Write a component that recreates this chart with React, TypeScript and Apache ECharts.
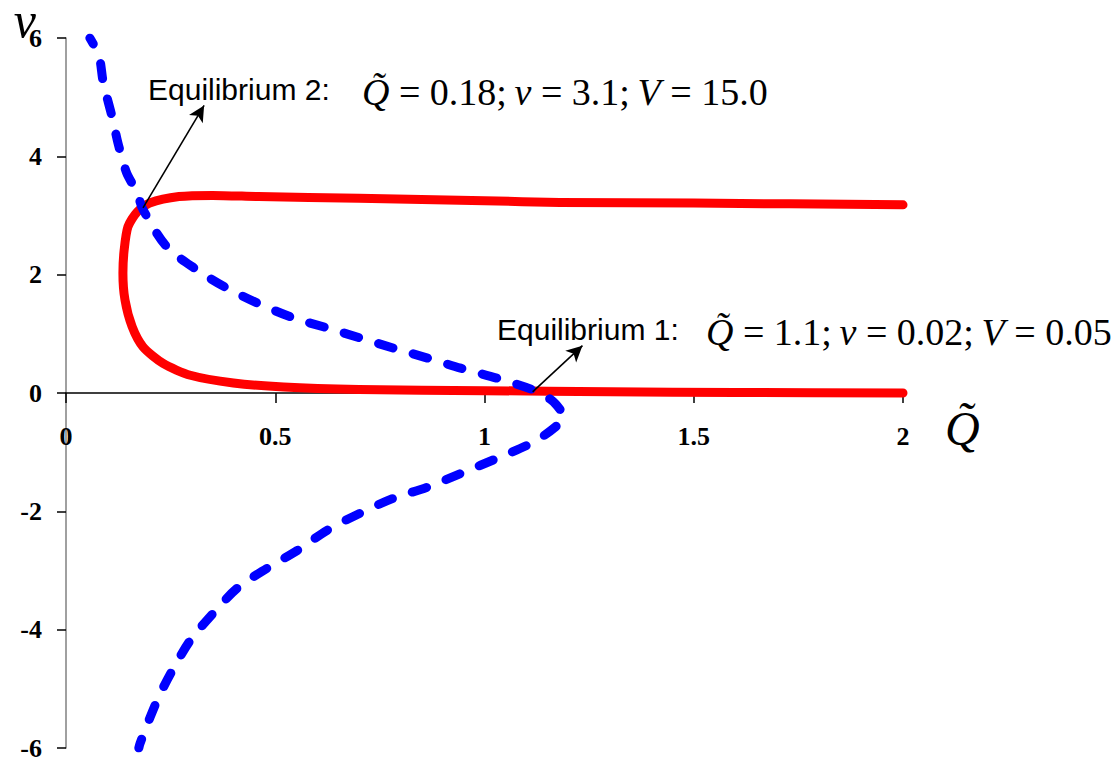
import React, { useEffect, useRef } from "react";
import * as echarts from "echarts";

// Red curve (solid): Q~ values and v values, traced from upper branch around the nose to lower branch
const redQ = [2.0, 1.5, 1.18, 1.0, 0.7, 0.46, 0.35, 0.27, 0.2, 0.17, 0.148, 0.139, 0.136, 0.141, 0.158, 0.184, 0.232, 0.297, 0.4, 0.52, 0.7, 1.0, 1.3, 1.6, 2.0];
const redV = [3.18, 3.21, 3.22, 3.25, 3.29, 3.32, 3.34, 3.32, 3.21, 3.06, 2.81, 2.42, 2.03, 1.57, 1.12, 0.78, 0.5, 0.3, 0.17, 0.1, 0.06, 0.04, 0.02, 0.01, 0.0];

// Blue curve (dashed)
const blueQ = [0.057, 0.079, 0.089, 0.11, 0.124, 0.133, 0.145, 0.17, 0.184, 0.241, 0.313, 0.38, 0.457, 0.543, 0.624, 0.703, 0.782, 0.864, 0.943, 1.03, 1.117, 1.16, 1.182, 1.19, 1.17, 1.117, 1.038, 0.943, 0.864, 0.782, 0.703, 0.624, 0.553, 0.481, 0.409, 0.352, 0.297, 0.254, 0.218, 0.177, 0.174];
const blueV = [6.0, 5.69, 5.25, 4.67, 4.23, 4.0, 3.72, 3.38, 3.1, 2.47, 2.08, 1.79, 1.52, 1.27, 1.1, 0.93, 0.76, 0.59, 0.42, 0.25, 0.05, -0.12, -0.29, -0.4, -0.57, -0.83, -1.08, -1.36, -1.59, -1.78, -2.03, -2.32, -2.66, -2.96, -3.3, -3.72, -4.18, -4.69, -5.19, -5.92, -6.0];

// Annotation arrows: [start, end] in data coordinates
const arrow2 = [[0.184, 3.13], [0.33, 4.86]];
const arrow1 = [[1.115, 0.02], [1.234, 0.8]];

const xTicks = { min: 0, max: 2, interval: 0.5 };
const yTicks = { min: -6, max: 6, interval: 2 };

const eq2Label = "Equilibrium 2:";
const eq2Math = ["Q\u0303", " = 0.18;\u2009", "v", " = 3.1;\u2009", "V", " = 15.0"];
const eq1Label = "Equilibrium 1:";
const eq1Math = ["Q\u0303", " = 1.1;\u2009", "v", " = 0.02;\u2009", "V", " = 0.05"];

const SERIF = "'Liberation Serif', 'Times New Roman', serif";
const SANS = "'Liberation Sans', Arial, sans-serif";

function mathRich(parts: string[]) {
  return parts.map((p, i) => (i % 2 === 0 ? `{i|${p}}` : `{r|${p}}`)).join("");
}

export default function App() {
  const ref = useRef<HTMLDivElement>(null);
  useEffect(() => {
    document.body.style.margin = "0";
    if (!ref.current) return;
    const chart = echarts.init(ref.current, null, { renderer: "svg" });
    const redData = redQ.map((q, i) => [q, redV[i]]);
    const blueData = blueQ.map((q, i) => [q, blueV[i]]);
    const rich = {
      i: { fontFamily: SERIF, fontStyle: "italic", fontSize: 38, fill: "#000" },
      r: { fontFamily: SERIF, fontSize: 38, fill: "#000" },
    };
    const arrowLine = (a: number[][]) => [[{ coord: a[0] }, { coord: a[1] }]];
    chart.setOption({
      animation: false,
      backgroundColor: "#fff",
      grid: { left: 66, right: 208, top: 38, bottom: 14, containLabel: false, outerBoundsMode: "none" },
      xAxis: {
        type: "value",
        ...xTicks,
        position: "bottom",
        offset: -355,
        name: "Q\u0303",
        nameLocation: "end",
        nameGap: 42,
        nameMoveOverlap: false,
        nameTextStyle: {
          fontFamily: SERIF, fontStyle: "italic", fontSize: 48, color: "#000",
          align: "left", verticalAlign: "top", padding: [11, 0, 0, 0],
        },
        axisLine: { onZero: false, lineStyle: { color: "#000", width: 1.5 } },
        axisTick: { show: true, length: 10, lineStyle: { color: "#000", width: 1.5 } },
        axisLabel: {
          fontFamily: SERIF, fontWeight: "bold", fontSize: 26, color: "#000", margin: 30,
          formatter: (v: number) => String(v),
        },
        splitLine: { show: false },
      },
      yAxis: {
        type: "value",
        ...yTicks,
        name: "v",
        nameLocation: "end",
        nameGap: 18,
        nameMoveOverlap: false,
        nameTextStyle: {
          fontFamily: SERIF, fontStyle: "italic", fontSize: 50, lineHeight: 40, color: "#000",
          align: "right", verticalAlign: "middle", padding: [0, 30, 0, 0],
        },
        axisLine: { lineStyle: { color: "#808080", width: 1.5 } },
        axisTick: { show: true, length: 9, lineStyle: { color: "#000", width: 1.5 } },
        axisLabel: { fontFamily: SERIF, fontWeight: "bold", fontSize: 26, color: "#000", margin: 24 },
        splitLine: { show: false },
      },
      series: [
        {
          type: "line",
          data: redData,
          showSymbol: false,
          smooth: 0.25,
          lineStyle: { color: "#ff0000", width: 9, cap: "round", join: "round" },
          z: 2,
        },
        {
          type: "line",
          data: blueData,
          showSymbol: false,
          smooth: 0.3,
          lineStyle: { color: "#0000ff", width: 9, type: [15, 21], dashOffset: 8, cap: "round", join: "round" },
          z: 3,
          markLine: {
            silent: true,
            symbol: ["none", "arrow"],
            symbolSize: [12, 16],
            label: { show: false },
            lineStyle: { color: "#000", width: 1.6, type: "solid" },
            data: [...arrowLine(arrow2), ...arrowLine(arrow1)],
          },
        },
      ],
      graphic: [
        { type: "text", x: 148, y: 89, style: { text: eq2Label, font: `30px ${SANS}`, fill: "#000", verticalAlign: "middle" } },
        { type: "text", x: 362, y: 92, style: { text: mathRich(eq2Math), rich, verticalAlign: "middle" } },
        { type: "text", x: 497, y: 329, style: { text: eq1Label, font: `30px ${SANS}`, fill: "#000", verticalAlign: "middle" } },
        { type: "text", x: 706, y: 332, style: { text: mathRich(eq1Math), rich, verticalAlign: "middle" } },
      ],
    });
    return () => chart.dispose();
  }, []);
  return <div ref={ref} style={{ width: 1111, height: 762 }} />;
}
